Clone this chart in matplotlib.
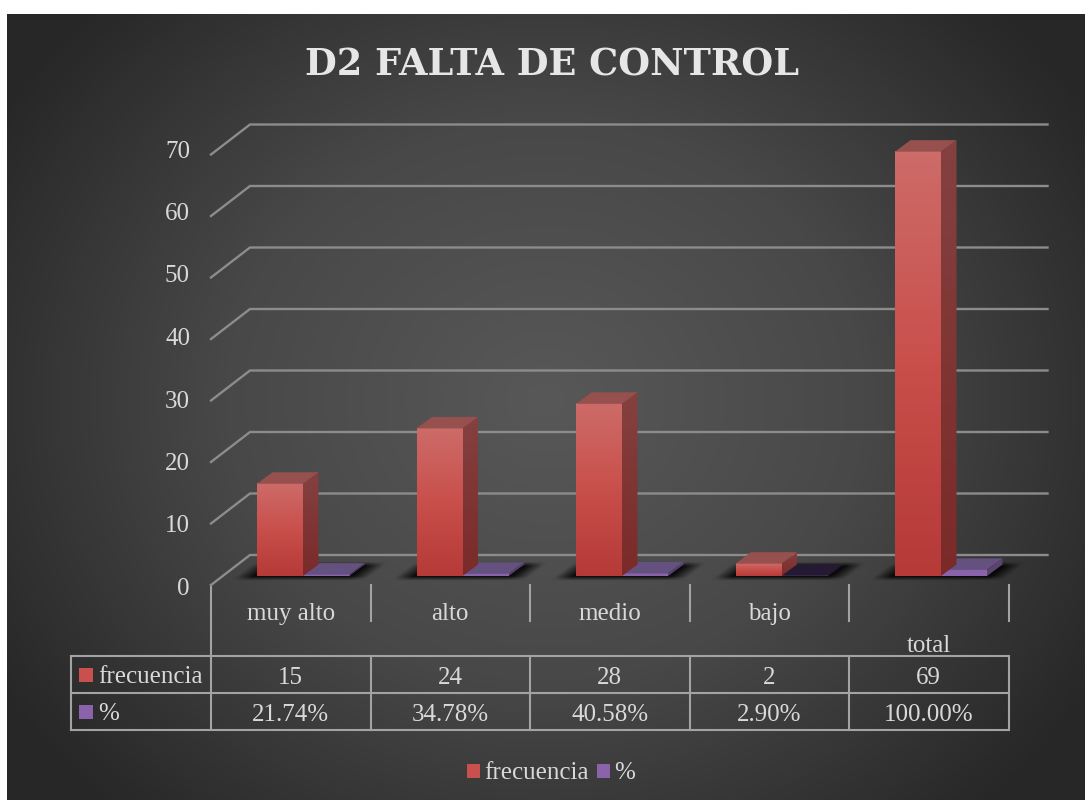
import numpy as np
import matplotlib
matplotlib.use('Agg')
import matplotlib.pyplot as plt
from matplotlib.patches import Polygon, Rectangle
from matplotlib.colors import LinearSegmentedColormap

categorias = ['muy alto', 'alto', 'medio', 'bajo', 'total']
frecuencia = [15, 24, 28, 2, 69]
porcentaje = [21.74, 34.78, 40.58, 2.90, 100.00]
ticks_y = [0, 10, 20, 30, 40, 50, 60, 70]

W, H = 1085, 800
texto = '#d9d9d9'
linea = '#a3a3a3'
rejilla = '#8c8c8c'
serif = 'Liberation Serif'
fs = 18

fig = plt.figure(figsize=(W / 100, H / 100), dpi=100, facecolor='white')

# capa de fondo en pixeles, y hacia abajo
bg = fig.add_axes([0, 0, 1, 1])
bg.set_xlim(0, W)
bg.set_ylim(H, 0)
bg.axis('off')
yy, xx = np.mgrid[14:H, 7:W]
r = np.sqrt(((xx - 545) / 640) ** 2 + ((yy - 400) / 560) ** 2)
fondo = LinearSegmentedColormap.from_list('f', [(0, '#585858'), (0.5, '#484848'), (1, '#272727')])
bg.imshow(np.clip(r, 0, 1), cmap=fondo, vmin=0, vmax=1, extent=(7, W, H, 14), aspect='auto', zorder=0)
bg.set_xlim(0, W)
bg.set_ylim(H, 0)

# ejes de datos: categoria 0 empieza en x=211, valor 0 en y=576
CW, PX = 159.5, 6.15
ax = fig.add_axes([0, 0, 1, 1], facecolor='none')
ax.axis('off')

DX, DY = 15.5 / CW, 11.5 / PX
BW = 46 / CW
FX, FY = 39 / CW, 21 / PX   # pared del fondo
FRONT = -9 / PX             # plano frontal

for v in ticks_y:
    ax.plot([0, FX, 5 + FX], [v + FRONT, v + FY, v + FY], color=rejilla, lw=1.7, zorder=1, solid_joinstyle='miter')


def sombra(x0, x1):
    px = np.linspace(x0 - 0.25, x1 + 0.3, 300)
    py = np.linspace(-0.9, DY + 0.6, 50)
    gx, gy = np.meshgrid(px, py)
    u = gx - gy / DY * DX
    a = np.clip((u - (x0 - 0.13)) / 0.11, 0, 1) * np.clip(((x1 + 0.13) - u) / 0.11, 0, 1)
    a = a * np.clip((gy + 0.7) / 0.7, 0, 1) * np.clip((DY + 0.5 - gy) / 0.7, 0, 1)
    img = np.zeros(a.shape + (4,))
    img[..., 3] = a * 0.85
    ax.imshow(img, extent=(px[0], px[-1], py[0], py[-1]), origin='lower', aspect='auto', zorder=2, interpolation='bilinear')


def barra(x, v, cara, tapa, lado, z):
    g = LinearSegmentedColormap.from_list('g', cara)
    ax.imshow(np.linspace(0, 1, 64).reshape(-1, 1), cmap=g, extent=(x, x + BW, 0, v),
              origin='lower', aspect='auto', zorder=z)
    g2 = LinearSegmentedColormap.from_list('g2', lado)
    im = ax.imshow(np.linspace(0, 1, 64).reshape(-1, 1), cmap=g2, extent=(x + BW, x + BW + DX, 0, v + DY),
                   origin='lower', aspect='auto', zorder=z)
    pol = Polygon([(x + BW, 0), (x + BW + DX, DY), (x + BW + DX, v + DY), (x + BW, v)], fc='none', ec='none',
                  transform=ax.transData)
    ax.add_patch(pol)
    im.set_clip_path(pol)
    ax.add_patch(Polygon([(x, v), (x + BW, v), (x + BW + DX, v + DY), (x + DX, v + DY)], fc=tapa, ec='none', zorder=z))


for i in range(5):
    x = i + 46 / CW
    sombra(x, x + 2 * BW)
    alto_p = porcentaje[i] / 100
    tapa_p = '#241a33' if i == 3 else '#65517f'
    barra(x + BW, alto_p, ['#8a63ab', '#8a63ab'], tapa_p, ['#5a4470', '#5a4470'], 3)
    barra(x, frecuencia[i], ['#b53a38', '#c94f4b', '#cd6b68'], '#96504e', ['#7a2a29', '#844140'], 4)

ax.set_xlim(-211 / CW, (W - 211) / CW)
ax.set_ylim((576 - H) / PX, 576 / PX)

# etiquetas del eje y
for v in ticks_y:
    bg.text(190, 589 - v * 6.25, str(v), ha='right', va='center', color=texto, fontsize=fs, family=serif, zorder=5)

# titulo
bg.text(552, 65, 'D2 FALTA DE CONTROL', ha='center', va='center', color='#e6e6e6', fontsize=26.4,
        family='DejaVu Serif', fontweight='bold', zorder=5)

# tabla de datos
x_cols = [211 + CW * i for i in range(6)]
for xc in x_cols:
    bg.plot([xc, xc], [585, 621], color=linea, lw=1.5, zorder=5)
bg.plot([211, 211], [621, 656], color=linea, lw=1.5, zorder=5)
for yc in [656, 693, 730]:
    bg.plot([71, 1008], [yc, yc], color=linea, lw=1.5, zorder=5)
for xc in [71] + x_cols:
    bg.plot([xc, xc], [656, 730], color=linea, lw=1.5, zorder=5)

for i, cat in enumerate(categorias):
    xc = 211 + CW * (i + 0.5)
    yc = 646 if cat == 'total' else 614
    bg.text(xc, yc, cat, ha='center', va='center', color=texto, fontsize=fs, family=serif, zorder=5)
    bg.text(xc, 678, str(frecuencia[i]), ha='center', va='center', color=texto, fontsize=fs, family=serif, zorder=5)
    bg.text(xc, 715, '%.2f%%' % porcentaje[i], ha='center', va='center', color=texto, fontsize=fs, family=serif, zorder=5)

rojo, morado = '#c9504c', '#8a63ab'
bg.add_patch(Rectangle((79, 668), 14, 14, fc=rojo, ec='none', zorder=5))
bg.add_patch(Rectangle((79, 705), 14, 14, fc=morado, ec='none', zorder=5))
bg.text(98, 677, 'frecuencia', ha='left', va='center', color=texto, fontsize=fs, family=serif, zorder=5)
bg.text(98, 714, '%', ha='left', va='center', color=texto, fontsize=fs, family=serif, zorder=5)

# leyenda
bg.add_patch(Rectangle((467, 764), 13, 14, fc=rojo, ec='none', zorder=5))
bg.add_patch(Rectangle((597, 764), 13, 14, fc=morado, ec='none', zorder=5))
bg.text(484, 773, 'frecuencia', ha='left', va='center', color=texto, fontsize=fs, family=serif, zorder=5)
bg.text(614, 773, '%', ha='left', va='center', color=texto, fontsize=fs, family=serif, zorder=5)

fig.savefig('out.png', dpi=100)
